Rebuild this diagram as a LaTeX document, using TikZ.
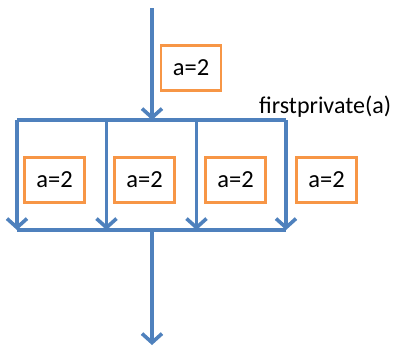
\documentclass[tikz,border=0pt]{standalone}
\usepackage{fontspec}
\setmainfont{Carlito}
\usetikzlibrary{arrows.meta}
\definecolor{flowblue}{HTML}{4F81BD}
\definecolor{varorange}{HTML}{F79646}
\begin{document}
\begin{tikzpicture}[x=1pt,y=-1pt,
  flow/.style={draw=flowblue,line width=3.6pt},
  flowarrow/.style={flow,-{Straight Barb[length=9pt,width=20pt,line width=3.6pt]}},
  varbox/.style={draw=varorange,line width=2.2pt,minimum width=60pt,minimum height=45pt,
    inner sep=0pt,font=\fontsize{24.5}{28}\selectfont},
  lbl/.style={font=\fontsize{24}{28}\selectfont,inner sep=0pt}]
\useasboundingbox (0,0) rectangle (394,346);
% fork and join bars
\coordinate (top) at (152,8);
\coordinate (fork) at (152,120);
\coordinate (fl) at (17,120);
\coordinate (fr) at (286,120);
\coordinate (jl) at (17,230);
\coordinate (jr) at (286,230);
\coordinate (join) at (152,230);
\coordinate (bottom) at (152,345);
\coordinate (f2) at (106.5,120);
\coordinate (f3) at (196.5,120);
\coordinate (j2) at (106.5,230);
\coordinate (j3) at (196.5,230);
\draw[flow] (fl) -- (fr);
\draw[flow] (jl) -- (jr);
\draw[flowarrow] (top) -- (fork);
\draw[flowarrow] (fl) -- (jl);
\draw[flowarrow] (f2) -- (j2);
\draw[flowarrow] (f3) -- (j3);
\draw[flowarrow] (fr) -- (jr);
\draw[flowarrow] (join) -- (bottom);
% variable boxes
\node[varbox] (a0) at (191,68) {a=2};
\node[varbox] (a1) at (54.5,180) {a=2};
\node[varbox] (a2) at (144.5,180) {a=2};
\node[varbox] (a3) at (235.5,180) {a=2};
\node[varbox] (a4) at (326.5,180) {a=2};
\node[lbl,anchor=base west] (fp) at (259,113) {firstprivate(a)};
\end{tikzpicture}
\end{document}
